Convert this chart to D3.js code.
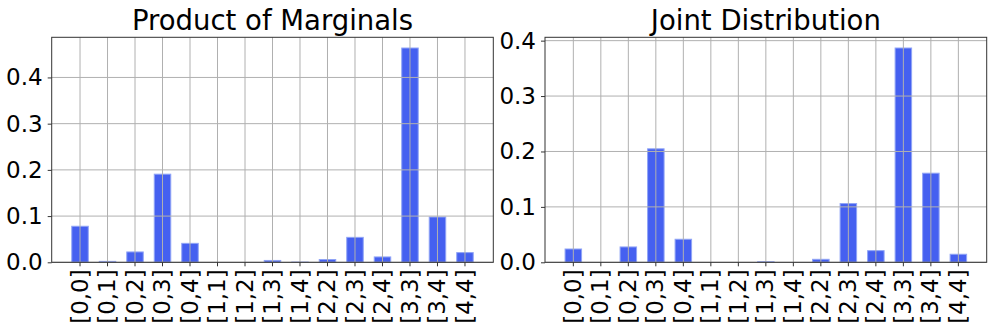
<!DOCTYPE html>
<html>
<head>
<meta charset="utf-8">
<script src="https://cdn.jsdelivr.net/npm/d3@7"></script>
<style>
  body { margin: 0; background: #fff; }
  svg { display: block; font-family: "DejaVu Sans", sans-serif; }
</style>
</head>
<body>
<div id="chart"></div>
<script>
const categories = ['[0,0]', '[0,1]', '[0,2]', '[0,3]', '[0,4]', '[1,1]', '[1,2]', '[1,3]',
    '[1,4]', '[2,2]', '[2,3]', '[2,4]', '[3,3]', '[3,4]', '[4,4]'];
const marginals = [0.078, 0.002, 0.0224, 0.1907, 0.041, 0, 0, 0.004,
    0.0005, 0.006, 0.054, 0.0116, 0.4637, 0.098, 0.021];
const joint = [0.024, 0, 0.0277, 0.2048, 0.0416, 0, 0, 0.001,
    0, 0.0054, 0.106, 0.021, 0.3867, 0.1608, 0.0145];
const yTicks = [0, 0.1, 0.2, 0.3, 0.4];

const svg = d3.select('#chart')
    .append('svg')
    .attr('width', 997)
    .attr('height', 332);

const panels = [
    {title: 'Product of Marginals', values: marginals, left: 51.7, right: 493.3},
    {title: 'Joint Distribution', values: joint, left: 545, right: 986.7}
];
const plotTop = 37.3, plotBottom = 262.3;

panels.forEach(p => {
    const w = p.right - p.left, h = plotBottom - plotTop;
    const g = svg.append('g').attr('transform', `translate(${p.left},${plotTop})`);

    const x = d3.scaleBand()
        .domain(categories)
        .range([0, w])
        .paddingInner(0.4)
        .paddingOuter(0.73);
    const y = d3.scaleLinear()
        .domain([0, d3.max(p.values) * 1.05])
        .range([h, 0]);

    // bars
    g.append('g').selectAll('rect')
        .data(p.values)
        .enter().append('rect')
        .attr('x', (d, i) => x(categories[i]))
        .attr('y', d => y(d))
        .attr('width', x.bandwidth())
        .attr('height', d => h - y(d))
        .attr('fill', '#4560f0')
        .attr('stroke', '#90a4f6')
        .attr('stroke-width', 1);

    // grid on top of bars
    const grid = g.append('g').attr('stroke', '#b0b0b0').attr('stroke-width', 1);
    grid.selectAll('.gx')
        .data(categories)
        .enter().append('line')
        .attr('x1', d => x(d) + x.bandwidth() / 2)
        .attr('x2', d => x(d) + x.bandwidth() / 2)
        .attr('y1', 0).attr('y2', h);
    grid.selectAll('.gy')
        .data(yTicks)
        .enter().append('line')
        .attr('x1', 0).attr('x2', w)
        .attr('y1', d => y(d)).attr('y2', d => y(d));

    // axes
    const xAxis = g.append('g')
        .attr('transform', `translate(0,${h})`)
        .call(d3.axisBottom(x).tickSize(4).tickPadding(5));
    xAxis.select('.domain').remove();
    xAxis.selectAll('line').attr('stroke', '#333');
    xAxis.selectAll('text')
        .attr('font-size', 23)
        .attr('font-family', '"DejaVu Sans", sans-serif')
        .attr('fill', '#000')
        .attr('transform', 'rotate(-90)')
        .attr('x', -7)
        .attr('y', 0)
        .attr('dy', '0.33em')
        .style('text-anchor', 'end');

    const yAxis = g.append('g')
        .call(d3.axisLeft(y).tickValues(yTicks).tickFormat(d3.format('.1f')).tickSize(4).tickPadding(5));
    yAxis.select('.domain').remove();
    yAxis.selectAll('line').attr('stroke', '#333');
    yAxis.selectAll('text')
        .attr('font-size', 23)
        .attr('font-family', '"DejaVu Sans", sans-serif')
        .attr('fill', '#000');

    g.append('rect')
        .attr('width', w).attr('height', h)
        .attr('fill', 'none')
        .attr('stroke', '#333')
        .attr('stroke-width', 1);

    svg.append('text')
        .attr('x', p.left + w / 2)
        .attr('y', 30)
        .style('text-anchor', 'middle')
        .attr('font-size', 27.5)
        .attr('fill', '#000')
        .text(p.title);
});
</script>
</body>
</html>
